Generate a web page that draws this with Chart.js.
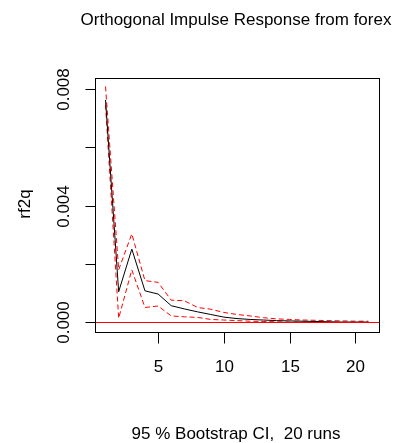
<!DOCTYPE html>
<html>
<head>
<meta charset="utf-8">
<script src="https://cdn.jsdelivr.net/npm/chart.js@4"></script>
<style>
  html, body { margin: 0; padding: 0; background: #fff; }
  canvas { display: block; }
</style>
</head>
<body>
<canvas id="irf" width="393" height="443"></canvas>
<script>
// horizon 1..21
var periods = [1, 2, 3, 4, 5, 6, 7, 8, 9, 10, 11, 12, 13, 14, 15, 16, 17, 18, 19, 20, 21];
var irf   = [0.00762, 0.00105, 0.00251, 0.00108, 0.00097, 0.00057, 0.00046, 0.00036, 0.00027, 0.00018, 0.00013, 0.00010, 0.00008, 0.00006, 0.00005, 0.00004, 0.00003, 0.00002, 0.00001, 0.00001, 0.00001];
var upper = [0.00808, 0.00180, 0.00303, 0.00143, 0.00137, 0.00076, 0.00074, 0.00051, 0.00045, 0.00034, 0.00027, 0.00022, 0.00016, 0.00012, 0.00010, 0.00008, 0.00007, 0.00006, 0.00005, 0.00004, 0.00004];
var lower = [0.00745, 0.00014, 0.00180, 0.00051, 0.00056, 0.00022, 0.00019, 0.00017, 0.00010, 0.00008, 0.00006, 0.00004, 0.00003, 0.00002, 0.00001, 0.00001, 0.00000, 0.00000, 0.00000, 0.00000, 0.00000];

var xTicks = [5, 10, 15, 20];
var yTicks = [0, 0.002, 0.004, 0.006, 0.008];
var yTickLabels = ['0.000', '', '0.004', '', '0.008'];

function pts(vals) {
    return vals.map(function (v, i) { return { x: periods[i], y: v }; });
}

var FONT = '"Liberation Sans", Arial, sans-serif';

// R-style frame, ticks and labels
var rAxes = {
    id: 'rAxes',
    afterDatasetsDraw: function (chart) {
        var ctx = chart.ctx, a = chart.chartArea;
        var xs = chart.scales.x, ys = chart.scales.y;
        ctx.save();
        // zero line
        var y0 = Math.round(ys.getPixelForValue(0)) + 0.5;
        ctx.strokeStyle = '#ff0000';
        ctx.lineWidth = 1;
        ctx.beginPath();
        ctx.moveTo(a.left, y0);
        ctx.lineTo(a.right, y0);
        ctx.stroke();
        ctx.restore();
    },
    afterDraw: function (chart) {
        var ctx = chart.ctx, a = chart.chartArea;
        var xs = chart.scales.x, ys = chart.scales.y;
        ctx.save();
        ctx.strokeStyle = '#000';
        ctx.lineWidth = 1;
        var L = Math.round(a.left) + 0.5, R = Math.round(a.right) + 0.5;
        var T = Math.round(a.top) + 0.5, B = Math.round(a.bottom) + 0.5;
        ctx.strokeRect(L, T, R - L, B - T);

        ctx.fillStyle = '#000';
        ctx.font = '17px ' + FONT;
        ctx.textAlign = 'center';
        ctx.textBaseline = 'middle';

        xTicks.forEach(function (t) {
            var px = Math.round(xs.getPixelForValue(t)) + 0.5;
            ctx.beginPath();
            ctx.moveTo(px, B);
            ctx.lineTo(px, B + 11);
            ctx.stroke();
            ctx.fillText(String(t), px, 367);
        });

        yTicks.forEach(function (t, i) {
            var py = Math.round(ys.getPixelForValue(t)) + 0.5;
            ctx.beginPath();
            ctx.moveTo(L, py);
            ctx.lineTo(L - 10, py);
            ctx.stroke();
            if (yTickLabels[i]) {
                ctx.save();
                ctx.translate(64, py);
                ctx.rotate(-Math.PI / 2);
                ctx.fillText(yTickLabels[i], 0, 0);
                ctx.restore();
            }
        });

        // y axis title
        ctx.save();
        ctx.translate(25, 204);
        ctx.rotate(-Math.PI / 2);
        ctx.fillText('rf2q', 0, 0);
        ctx.restore();

        // main title and sub text
        ctx.fillText('Orthogonal Impulse Response from forex', 236, 20);
        ctx.fillText('95 % Bootstrap CI,  20 runs', 236, 434);
        ctx.restore();
    }
};

new Chart(document.getElementById('irf'), {
    type: 'line',
    data: {
        datasets: [
            { data: pts(irf), borderColor: '#000', borderWidth: 1 },
            { data: pts(upper), borderColor: '#ff0000', borderWidth: 1, borderDash: [5, 3] },
            { data: pts(lower), borderColor: '#ff0000', borderWidth: 1, borderDash: [5, 3] }
        ]
    },
    options: {
        responsive: false,
        animation: false,
        layout: { padding: { top: 78, left: 95, right: 14, bottom: 111 } },
        elements: { point: { radius: 0 }, line: { tension: 0, fill: false } },
        scales: {
            x: { type: 'linear', min: 0.2, max: 21.8, display: false },
            y: { type: 'linear', min: -0.00033, max: 0.00837, display: false }
        },
        plugins: { legend: { display: false }, tooltip: { enabled: false } }
    },
    plugins: [rAxes]
});
</script>
</body>
</html>
